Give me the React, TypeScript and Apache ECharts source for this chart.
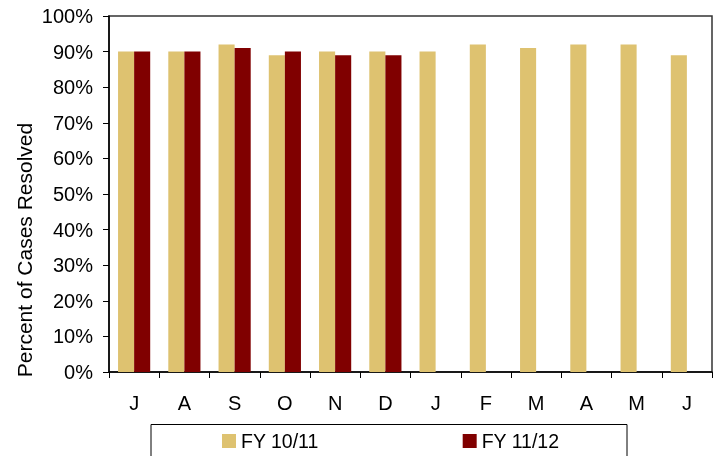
import React, { useEffect, useRef } from "react";
import * as echarts from "echarts";

const months = ["J", "A", "S", "O", "N", "D", "J", "F", "M", "A", "M", "J"];
const fy1011 = [90, 90, 92, 89, 90, 90, 90, 92, 91, 92, 92, 89];
const fy1112: (number | null)[] = [90, 90, 91, 90, 89, 89, null, null, null, null, null, null];
const yTicks = { min: 0, max: 100, interval: 10 };

const FONT = "'Liberation Sans', Arial, sans-serif";

export default function App() {
  const ref = useRef<HTMLDivElement>(null);
  useEffect(() => {
    if (!ref.current) return;
    const chart = echarts.init(ref.current, undefined, { renderer: "svg" });
    chart.setOption({
      animation: false,
      textStyle: { fontFamily: FONT, color: "#000" },
      grid: {
        left: 109,
        top: 16,
        right: 5,
        bottom: 84,
        show: true,
        borderColor: "#333",
        borderWidth: 1.5,
        backgroundColor: "transparent",
      },
      legend: {
        data: ["FY 10/11", "FY 11/12"],
        left: 222,
        top: 431,
        padding: 0,
        itemWidth: 14,
        itemHeight: 14,
        itemGap: 144,
        icon: "rect",
        textStyle: { fontSize: 19.5, color: "#000", fontFamily: FONT },
      },
      xAxis: {
        type: "category",
        data: months,
        axisLine: { lineStyle: { color: "#000", width: 1.5 } },
        axisTick: { show: true, length: 6, inside: false, lineStyle: { color: "#000" } },
        axisLabel: { fontSize: 20, color: "#000", margin: 21, fontFamily: FONT },
      },
      yAxis: {
        type: "value",
        min: yTicks.min,
        max: yTicks.max,
        interval: yTicks.interval,
        axisLine: { show: true, lineStyle: { color: "#000", width: 1.5 } },
        axisTick: { show: true, length: 6, lineStyle: { color: "#000" } },
        splitLine: { show: false },
        axisLabel: { fontSize: 20, color: "#000", margin: 16, formatter: "{value}%", fontFamily: FONT },
      },
      series: [
        {
          name: "FY 10/11",
          type: "bar",
          data: fy1011,
          itemStyle: { color: "#DEC270" },
          barGap: "0%",
          barCategoryGap: "36%",
        },
        {
          name: "FY 11/12",
          type: "bar",
          data: fy1112,
          itemStyle: { color: "#800000" },
          barGap: "0%",
          barCategoryGap: "36%",
        },
      ],
      graphic: [
        {
          type: "text",
          x: 24,
          y: 250,
          rotation: Math.PI / 2,
          style: {
            text: "Percent of Cases Resolved",
            fontSize: 21,
            fontFamily: FONT,
            fill: "#000",
            align: "center",
            verticalAlign: "middle",
          },
        },
        {
          type: "rect",
          shape: { x: 151, y: 424.5, width: 476, height: 60 },
          style: { fill: "none", stroke: "#000", lineWidth: 1 },
        },
      ],
    });
    return () => chart.dispose();
  }, []);
  return (
    <div
      ref={ref}
      style={{ position: "fixed", left: 0, top: 0, width: 717, height: 456 }}
    />
  );
}
